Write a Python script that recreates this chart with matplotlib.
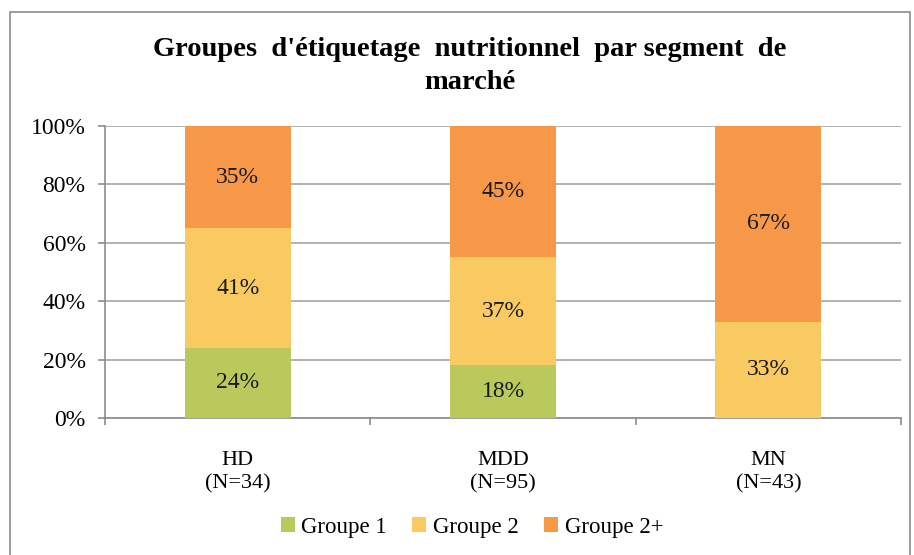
import numpy as np
import matplotlib
matplotlib.use("Agg")
import matplotlib.pyplot as plt
from matplotlib.patches import Rectangle

categories = ["HD\n(N=34)", "MDD\n(N=95)", "MN\n(N=43)"]
groupe_1 = [24, 18, 0]
groupe_2 = [41, 37, 33]
groupe_2p = [35, 45, 67]
series_names = ["Groupe 1", "Groupe 2", "Groupe 2+"]
colors = ["#b9c95b", "#f8ca61", "#f79748"]
yticks = [0, 20, 40, 60, 80, 100]

serif = "Liberation Serif"

fig = plt.figure(figsize=(9.14, 5.55), dpi=100)
ax = fig.add_axes([105/914, 1 - 418/555, 796/914, 292/555])

# cadre extérieur
fig.patches.append(Rectangle((10/914, -0.05), 900/914, 1 - 12/555 + 0.05,
                             transform=fig.transFigure, fill=False,
                             edgecolor="#8c8c8c", linewidth=1.2))

x = np.arange(len(categories))
bottom = np.zeros(len(categories))
for vals, name, col in zip([groupe_1, groupe_2, groupe_2p], series_names, colors):
    vals = np.array(vals, dtype=float)
    ax.bar(x, vals, 0.4, bottom=bottom, color=col, label=name, zorder=3)
    for xi, v, b in zip(x, vals, bottom):
        if v > 0:
            ax.text(xi, b + v / 2, f"{int(v)}%", ha="center", va="center",
                    fontsize=17, family=serif, color="#1a1a1a", zorder=4)
    bottom += vals

ax.set_xlim(-0.5, 2.5)
ax.set_ylim(0, 100)
ax.set_yticks(yticks)
ax.set_yticklabels([f"{t}%" for t in yticks], family=serif, fontsize=17)
ax.yaxis.grid(True, color="#a6a6a6", linewidth=1.2, zorder=0)
ax.set_xticks([-0.5, 0.5, 1.5, 2.5])
ax.set_xticklabels([])
ax.set_xticks(x, minor=True)
ax.set_xticklabels(categories, minor=True, family=serif, fontsize=16,
                   linespacing=1.3)
ax.tick_params(axis="x", which="minor", length=0, pad=24)
ax.tick_params(axis="x", which="major", length=5, color="#8c8c8c", width=1.2)
ax.tick_params(axis="y", length=5, color="#8c8c8c", width=1.2, pad=9)
for s in ["top", "right"]:
    ax.spines[s].set_visible(False)
for s in ["left", "bottom"]:
    ax.spines[s].set_color("#8c8c8c")
    ax.spines[s].set_linewidth(1.2)

fig.text(470/914, 1 - 66/555, "Groupes  d'étiquetage  nutritionnel  par segment  de\nmarché",
         ha="center", va="center", fontsize=20.5, fontweight="bold",
         family=serif, linespacing=1.45)

leg = ax.legend(loc="center", bbox_to_anchor=(472/914, 1 - 527/555),
                bbox_transform=fig.transFigure, ncol=3, frameon=False,
                prop={"family": serif, "size": 16.5},
                handlelength=0.6, handleheight=0.6, handletextpad=0.3,
                columnspacing=1.1)

fig.savefig("out.png", dpi=100)
